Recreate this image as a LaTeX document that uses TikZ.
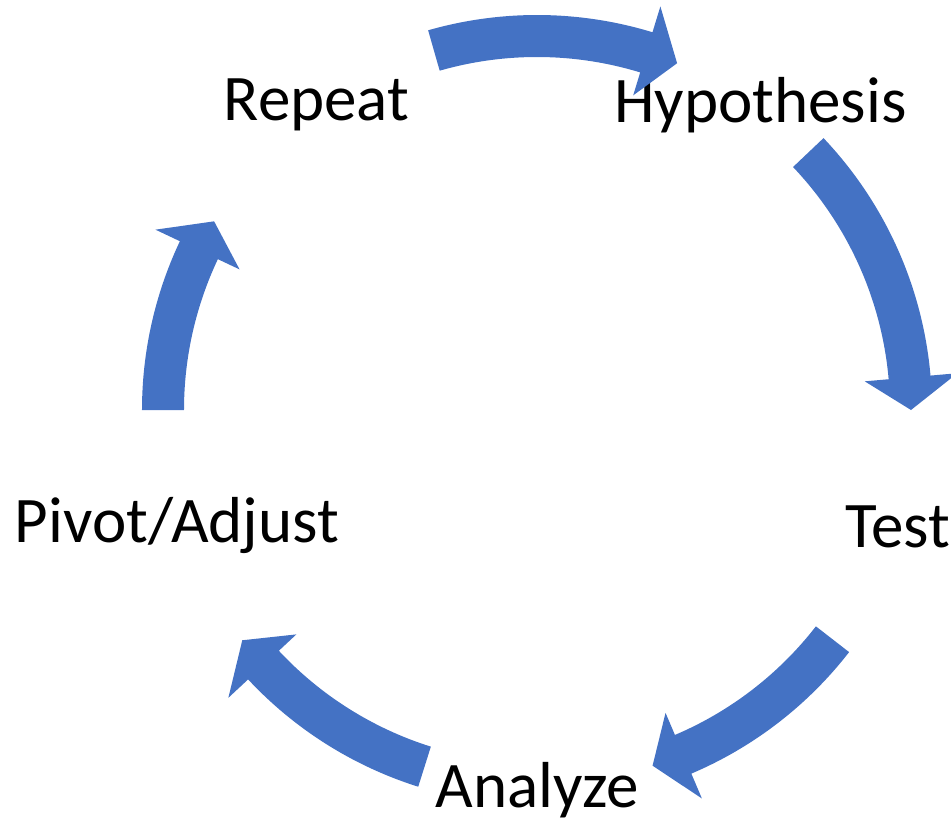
\documentclass[tikz,border=0pt]{standalone}
\usepackage{fontspec}
\setmainfont{Carlito}
\usepackage{tikz}
\definecolor{cycleblue}{RGB}{68, 114, 196}

\tikzset{
  steplabel/.style={inner sep=0pt, anchor=base, font=\fontsize{37}{44}\selectfont}
}
% curved block arrow round the centre: #1 tail angle, #2 tip angle
\newcommand{\cyclearrow}[2]{%
  \fill[cycleblue] (#1:7.9) arc[start angle=#1, end angle=#2+5, radius=7.9]
    -- (#2+5:8.44) -- (#2:7.48) -- (#2+5:6.58) -- (#2+5:7.06)
    arc[start angle=#2+5, end angle=#1, radius=7.06] -- cycle;}

\begin{document}
\begin{tikzpicture}[scale=1.0]
    \useasboundingbox (-10.74,8.2) rectangle (8.28,-8.3);
    \coordinate (ctr) at (0,0);

    %% steps of the cycle
    \node[steplabel] (repeat) at (-4.41, 5.80) {Repeat};
    \node[steplabel] (hypo) at (4.47, 5.76) {Hypothesis};
    \node[steplabel] (test) at (7.21, -2.74) {Test};
    \node[steplabel] (analyze) at (0.01, -7.94) {Analyze};
    \node[steplabel] (pivot) at (-7.20, -2.64) {Pivot/Adjust};

    %% arrows between the steps
    \cyclearrow{106}{68}
    \cyclearrow{43.5}{0}
    \cyclearrow{-37.8}{-72}
    \cyclearrow{-107.5}{-142}
    \cyclearrow{180}{149.7}
  \end{tikzpicture}
\end{document}
